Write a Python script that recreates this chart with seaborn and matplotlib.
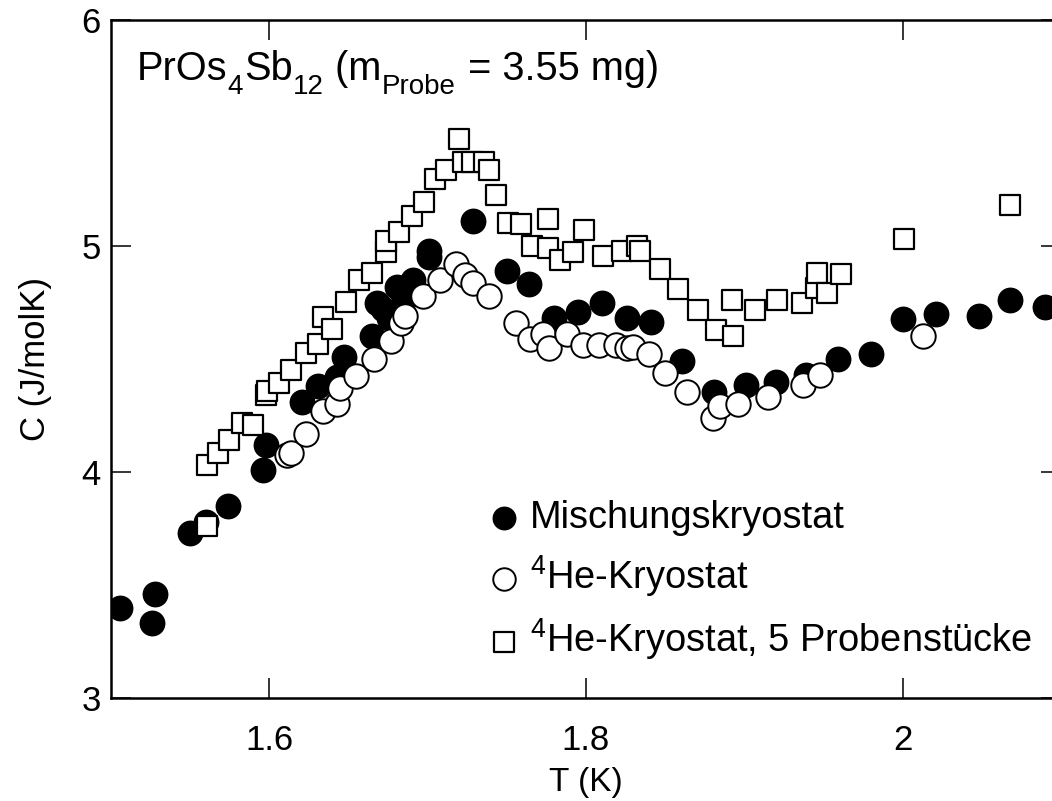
import numpy as np
import pandas as pd
import matplotlib
matplotlib.use("Agg")
import matplotlib.pyplot as plt
import seaborn as sns

# ---- data ----
T_misch = [1.506, 1.526, 1.528, 1.550, 1.560, 1.574, 1.596, 1.598, 1.621, 1.631,
           1.643, 1.647, 1.665, 1.668, 1.672, 1.676, 1.681, 1.685, 1.691, 1.701,
           1.701, 1.729, 1.750, 1.764, 1.780, 1.795, 1.810, 1.826, 1.841, 1.861,
           1.881, 1.901, 1.920, 1.939, 1.959, 1.980, 2.000, 2.021, 2.048, 2.068, 2.090]
C_misch = [3.40, 3.33, 3.46, 3.73, 3.78, 3.85, 4.01, 4.12, 4.31, 4.38,
           4.42, 4.51, 4.60, 4.75, 4.72, 4.68, 4.82, 4.76, 4.85, 4.98,
           4.95, 5.11, 4.89, 4.83, 4.68, 4.71, 4.75, 4.68, 4.665, 4.49,
           4.355, 4.385, 4.40, 4.43, 4.50, 4.52, 4.675, 4.70, 4.69, 4.76, 4.73]

T_he4 = [1.611, 1.614, 1.623, 1.634, 1.643, 1.645, 1.655, 1.666, 1.677, 1.683,
         1.686, 1.697, 1.708, 1.718, 1.724, 1.729, 1.739, 1.756, 1.765, 1.773,
         1.777, 1.788, 1.798, 1.808, 1.819, 1.826, 1.830, 1.840, 1.850, 1.864,
         1.880, 1.885, 1.896, 1.915, 1.937, 1.948, 2.013]
C_he4 = [4.075, 4.085, 4.17, 4.27, 4.30, 4.37, 4.425, 4.50, 4.58, 4.66,
         4.69, 4.78, 4.85, 4.92, 4.87, 4.835, 4.78, 4.66, 4.59, 4.61,
         4.55, 4.61, 4.56, 4.56, 4.56, 4.55, 4.555, 4.52, 4.44, 4.355,
         4.24, 4.29, 4.30, 4.33, 4.385, 4.43, 4.60]

T_he4_5 = [1.561, 1.561, 1.568, 1.575, 1.583, 1.590, 1.598, 1.599, 1.606, 1.614,
           1.623, 1.631, 1.634, 1.640, 1.6485, 1.6565, 1.665, 1.674, 1.674, 1.682,
           1.690, 1.698, 1.7045, 1.712, 1.720, 1.7225, 1.728, 1.736, 1.739, 1.743,
           1.751, 1.759, 1.766, 1.776, 1.776, 1.7835, 1.792, 1.799, 1.811, 1.823,
           1.832, 1.834, 1.847, 1.858, 1.8706, 1.882, 1.892, 1.893, 1.9065, 1.921,
           1.9366, 1.945, 1.946, 1.9525, 1.961, 2.001, 2.068]
C_he4_5 = [3.76, 4.03, 4.085, 4.14, 4.215, 4.21, 4.34, 4.36, 4.395, 4.45,
           4.525, 4.566, 4.687, 4.633, 4.754, 4.85, 4.88, 4.975, 5.02, 5.063,
           5.134, 5.196, 5.295, 5.336, 5.473, 5.37, 5.37, 5.37, 5.336, 5.226,
           5.10, 5.097, 5.0, 5.12, 4.99, 4.94, 4.975, 5.07, 4.956, 4.98,
           5.00, 4.98, 4.90, 4.81, 4.717, 4.63, 4.76, 4.60, 4.717, 4.76,
           4.746, 4.815, 4.88, 4.79, 4.876, 5.03, 5.18]

labels = ["Mischungskryostat",
          r"$^{4}$He-Kryostat",
          r"$^{4}$He-Kryostat, 5 Probenstücke"]
# title pieces: (text, is_subscript)
title_parts = [("PrOs", False), ("4", True), ("Sb", False), ("12", True),
               (" (m", False), ("Probe", True), (" = 3.55 mg)", False)]
x_ticks = [1.6, 1.8, 2.0]
x_ticklabels = ["1.6", "1.8", "2"]
y_ticks = [3, 4, 5, 6]
y_ticklabels = ["3", "4", "5", "6"]

# ---- style ----
sns.set_theme(style="ticks")
plt.rcParams["font.family"] = ["Liberation Sans", "DejaVu Sans"]
plt.rcParams["mathtext.fontset"] = "custom"
plt.rcParams["mathtext.rm"] = "Liberation Sans"
plt.rcParams["mathtext.it"] = "Liberation Sans"
plt.rcParams["mathtext.bf"] = "Liberation Sans"
plt.rcParams["mathtext.default"] = "regular"
for k in ["text.color", "axes.labelcolor", "xtick.color", "ytick.color",
          "axes.edgecolor", "xtick.labelcolor", "ytick.labelcolor"]:
    plt.rcParams[k] = "black"

W, H = 1052, 801
fig = plt.figure(figsize=(W / 100, H / 100), dpi=100)
ax_l, ax_r, ax_t, ax_b = 110.7, 1061.0, 20.0, 698.0
ax = fig.add_axes([ax_l / W, 1 - ax_b / H, (ax_r - ax_l) / W, (ax_b - ax_t) / H])

df1 = pd.DataFrame({"T": T_misch, "C": C_misch})
df2 = pd.DataFrame({"T": T_he4, "C": C_he4})
df3 = pd.DataFrame({"T": T_he4_5, "C": C_he4_5})

sns.scatterplot(data=df1, x="T", y="C", ax=ax, marker="o", s=310,
                color="black", edgecolor="black", linewidth=1.0,
                label=labels[0], zorder=3)
sns.scatterplot(data=df2, x="T", y="C", ax=ax, marker="o", s=310,
                facecolor="white", edgecolor="black", linewidth=1.4,
                label=labels[1], zorder=4)
sns.scatterplot(data=df3, x="T", y="C", ax=ax, marker="s", s=225,
                facecolor="white", edgecolor="black", linewidth=1.6,
                label=labels[2], zorder=5)

ax.set_xlim(1.5, 2.1)
ax.set_ylim(3, 6)
ax.set_xticks(x_ticks)
ax.set_xticklabels(x_ticklabels)
ax.set_yticks(y_ticks)
ax.set_yticklabels(y_ticklabels)
ax.tick_params(axis="both", which="major", direction="in", length=14.5,
               width=1.1, color="black", labelsize=25, top=True, right=True)
ax.tick_params(axis="x", pad=19)
ax.tick_params(axis="y", pad=7)
for sp in ax.spines.values():
    sp.set_visible(True)
    sp.set_linewidth(1.8)
    sp.set_color("black")

ax.set_xlabel("T (K)", fontsize=24, va="center")
ax.xaxis.set_label_coords((586 - ax_l) / (ax_r - ax_l), (ax_b - 782) / (ax_b - ax_t))
ax.set_ylabel("C (J/molK)", fontsize=25, va="center")
ax.yaxis.set_label_coords((35 - ax_l) / (ax_r - ax_l), (ax_b - 359) / (ax_b - ax_t))

# title composed of pieces with deep subscripts
renderer = fig.canvas.get_renderer()
x_px = 137.0
base_px = 80.0
main_fs, sub_fs, sub_drop = 28.6, 20, 14.0
for txt, is_sub in title_parts:
    fs = sub_fs if is_sub else main_fs
    y_px = base_px + (sub_drop if is_sub else 0.0)
    t = fig.text(x_px / W, 1 - y_px / H, txt, fontsize=fs, va="baseline", ha="left")
    bb = t.get_window_extent(renderer)
    x_px = bb.x1 + (1.0 if is_sub else 0.0)

leg = ax.legend(loc="upper left",
                bbox_to_anchor=((481 - ax_l) / (ax_r - ax_l), (ax_b - 500) / (ax_b - ax_t)),
                frameon=False, fontsize=27.4, handletextpad=0.08,
                labelspacing=0.45, borderpad=0, borderaxespad=0,
                handlelength=1.2, markerscale=0.92)

fig.savefig("out.png", dpi=100)
